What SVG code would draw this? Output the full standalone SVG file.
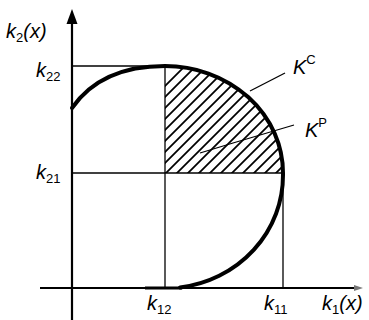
<svg xmlns="http://www.w3.org/2000/svg" width="369" height="320" viewBox="0 0 369 320">
<style>
.ax{stroke:#000;stroke-width:2.2;fill:none}
.ln{stroke:#000;stroke-width:1.3;fill:none}
.cv{stroke:#000;stroke-width:4;fill:none;stroke-linecap:round}
.ht{stroke:#000;stroke-width:1.8}
text{font-family:"Liberation Sans",Arial,sans-serif;font-size:20px;font-style:italic;fill:#000}
.sb{font-size:13px;font-style:normal}
</style>
<defs>
<clipPath id="kp"><path d="M165,66 A118,107 0 0 1 283,173 L165,173 Z"/></clipPath>
</defs>
<rect width="369" height="320" fill="#fff"/>
<g id="axes">
<line class="ax" x1="72" y1="20" x2="72" y2="320"/>
<polygon points="72,9 66.5,24 77.5,24" fill="#000"/>
<line class="ax" x1="40" y1="288" x2="356" y2="288"/>
<polygon points="363,288 354,285 354,291" fill="#777"/>
</g>
<g id="hatch" clip-path="url(#kp)">
<g class="ht">
<line x1="150" y1="200" x2="290" y2="60"/>
<line x1="150" y1="189" x2="290" y2="49"/>
<line x1="150" y1="178" x2="290" y2="38"/>
<line x1="150" y1="167" x2="290" y2="27"/>
<line x1="150" y1="156" x2="290" y2="16"/>
<line x1="150" y1="145" x2="290" y2="5"/>
<line x1="150" y1="134" x2="290" y2="-6"/>
<line x1="150" y1="123" x2="290" y2="-17"/>
<line x1="150" y1="112" x2="290" y2="-28"/>
<line x1="150" y1="101" x2="290" y2="-39"/>
<line x1="150" y1="211" x2="290" y2="71"/>
<line x1="150" y1="222" x2="290" y2="82"/>
<line x1="150" y1="233" x2="290" y2="93"/>
<line x1="150" y1="244" x2="290" y2="104"/>
<line x1="150" y1="255" x2="290" y2="115"/>
<line x1="150" y1="266" x2="290" y2="126"/>
<line x1="150" y1="277" x2="290" y2="137"/>
<line x1="150" y1="288" x2="290" y2="148"/>
<line x1="150" y1="299" x2="290" y2="159"/>
</g>
</g>
<g id="guides">
<line class="ln" x1="72" y1="66" x2="165" y2="66"/>
<line class="ln" x1="165" y1="66" x2="165" y2="288"/>
<line class="ln" x1="72" y1="173" x2="283" y2="173"/>
<line class="ln" x1="283" y1="173" x2="283" y2="288"/>
</g>
<g id="curve">
<path class="cv" d="M72,108 C90,82 120,66 165,66 A118,107 0 0 1 283,173 L283,175 A118,113 0 0 1 180,287.5"/>
<path d="M182,288 L145,288" stroke="#000" stroke-width="3" fill="none"/>
</g>
<g id="leaders">
<line class="ln" x1="250" y1="91" x2="285" y2="73"/>
<polyline class="ln" points="200,153 233,143 250,138 294,125"/>
</g>
<g id="labels">
<text x="6" y="38">k<tspan class="sb" dy="4">2</tspan><tspan dy="-4">(x)</tspan></text>
<text x="36" y="77">k<tspan class="sb" dy="4">22</tspan></text>
<text x="36" y="179">k<tspan class="sb" dy="4">21</tspan></text>
<text x="147" y="310">k<tspan class="sb" dy="4">12</tspan></text>
<text x="264" y="310">k<tspan class="sb" dy="4">11</tspan></text>
<text x="322" y="310">k<tspan class="sb" dy="4">1</tspan><tspan dy="-4">(x)</tspan></text>
<text x="293" y="74">K<tspan class="sb" dy="-10">C</tspan></text>
<text x="305" y="137">K<tspan class="sb" dy="-10">P</tspan></text>
</g>
</svg>
